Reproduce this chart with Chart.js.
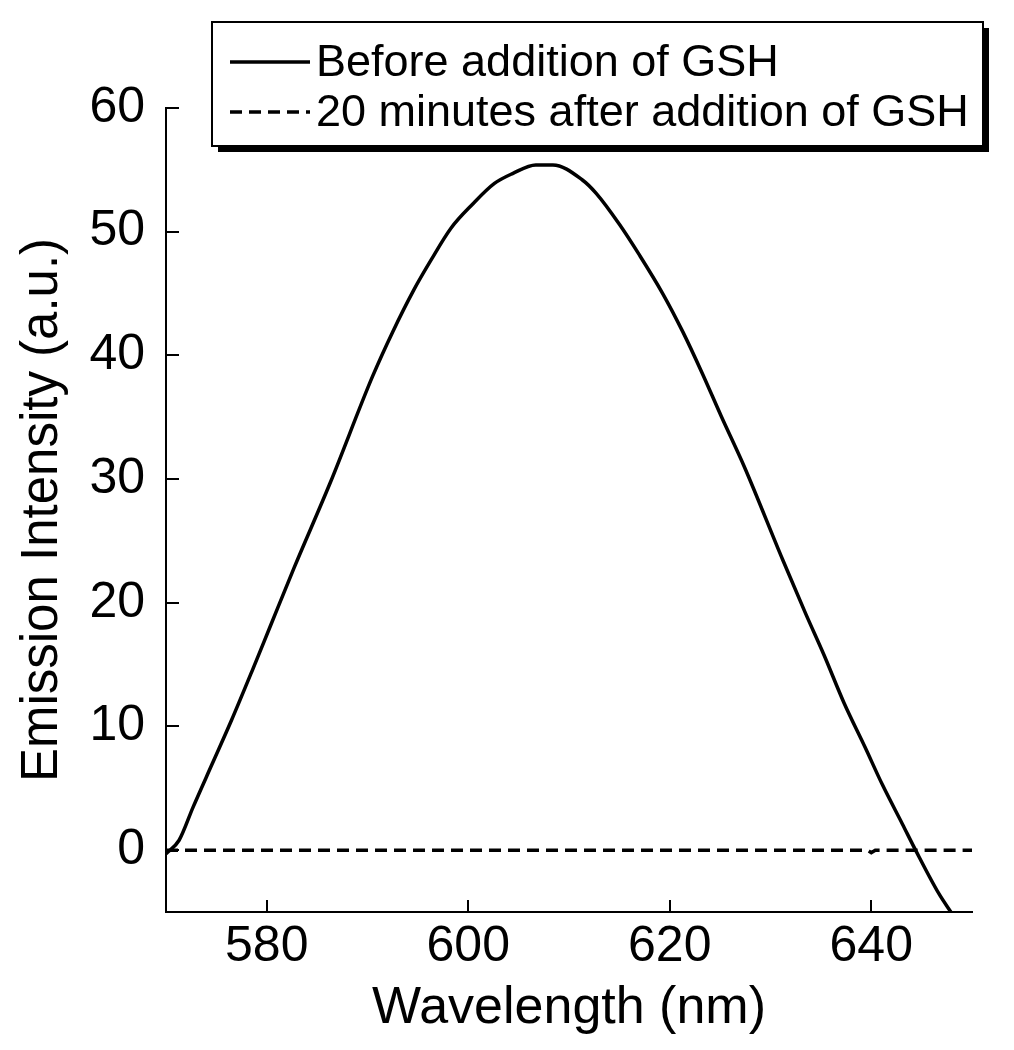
<!DOCTYPE html>
<html>
<head>
<meta charset="utf-8">
<title>Emission spectrum</title>
<script src="https://cdn.jsdelivr.net/npm/chart.js@4.4.1/dist/chart.umd.min.js"></script>
<style>
  html, body { margin: 0; padding: 0; background: #fff; }
  #wrap { width: 1014px; height: 1050px; }
</style>
</head>
<body>
<div id="wrap"><canvas id="myChart" width="1014" height="1050"></canvas></div>
<script>
// Set Data
const labels = ["Before addition of GSH", "20 minutes after addition of GSH"];
const beforeX = [570, 571.3, 572.7, 574.6, 576.5, 578.6, 580.3, 582.7, 586.3, 590.5, 592.5, 594.6, 596.3, 598.3, 600.4, 602.6, 604.4, 606.7, 608.4, 611.3, 612.7, 615.0, 617.0, 619.3, 621.3, 623.2, 625.1, 627.4, 631.2, 633.5, 635.3, 637.3, 639.4, 641.1, 643.1, 644.4, 646.7, 647.9];
const beforeY = [-0.3, 0.8, 3.5, 7.0, 10.5, 14.6, 18.0, 22.8, 29.7, 38.3, 41.9, 45.3, 47.7, 50.3, 52.2, 53.9, 54.7, 55.4, 55.4, 54.2, 53.1, 50.6, 48.1, 45.0, 41.9, 38.6, 35.1, 31.0, 23.5, 19.1, 15.8, 11.9, 8.3, 5.3, 2.1, 0, -3.5, -5.0];
const afterX = [570, 639.6, 640, 640.4, 650];
const afterY = [0, 0, -0.2, 0, 0];
const xTicks = [580, 600, 620, 640];
const yTicks = [0, 10, 20, 30, 40, 50, 60];

const toPoints = (xs, ys) => xs.map((x, i) => ({ x: x, y: ys[i] }));
const font = "'Liberation Sans', Arial, sans-serif";

// ----------------------Inward ticks + boxed legend-----------------------
const extras = {
  id: "extras",
  afterDraw(chart) {
    const ctx = chart.ctx;
    const area = chart.chartArea;
    const xs = chart.scales.x;
    const ys = chart.scales.y;
    ctx.save();
    ctx.strokeStyle = "#000";
    ctx.lineWidth = 2;
    ctx.beginPath();
    xs.ticks.forEach((t) => {
      const px = Math.round(xs.getPixelForValue(t.value));
      ctx.moveTo(px, area.bottom);
      ctx.lineTo(px, area.bottom - 12);
    });
    ys.ticks.forEach((t) => {
      const py = Math.round(ys.getPixelForValue(t.value));
      ctx.moveTo(area.left, py);
      ctx.lineTo(area.left + 13, py);
    });
    ctx.stroke();

    // legend box with shadow
    const bx = 212, by = 22, bw = 771, bh = 124;
    ctx.fillStyle = "#000";
    ctx.fillRect(bx + 6, by + 6, bw, bh);
    ctx.fillStyle = "#fff";
    ctx.fillRect(bx, by, bw, bh);
    ctx.lineWidth = 2;
    ctx.strokeRect(bx, by, bw, bh);

    ctx.font = "45px " + font;
    ctx.textBaseline = "middle";
    ctx.fillStyle = "#000";
    chart.data.datasets.forEach((ds, i) => {
      const y = 62 + i * 50;
      ctx.setLineDash(ds.borderDash || []);
      ctx.lineWidth = 3.5;
      ctx.beginPath();
      ctx.moveTo(230, y);
      ctx.lineTo(310, y);
      ctx.stroke();
      ctx.setLineDash([]);
      ctx.fillText(ds.label, 316, y + 2);
    });
    ctx.restore();
  },
};

new Chart("myChart", {
  type: "line",
  data: {
    datasets: [
      {
        label: labels[0],
        data: toPoints(beforeX, beforeY),
        borderColor: "#000",
        borderWidth: 3.5,
        pointRadius: 0,
        cubicInterpolationMode: "monotone",
        fill: false,
      },
      {
        label: labels[1],
        data: toPoints(afterX, afterY),
        borderColor: "#000",
        borderWidth: 3.5,
        borderDash: [12, 7],
        pointRadius: 0,
        tension: 0,
        fill: false,
      },
    ],
  },
  options: {
    responsive: false,
    animation: false,
    layout: { padding: { top: 108, right: 42, left: 0, bottom: 0 } },
    plugins: {
      legend: { display: false },
      tooltip: { enabled: false },
    },
    scales: {
      x: {
        type: "linear",
        min: 570,
        max: 650,
        afterBuildTicks: (s) => { s.ticks = xTicks.map((v) => ({ value: v })); },
        afterFit: (s) => { s.height = 138; },
        grid: { display: true, drawOnChartArea: false, drawTicks: false },
        border: { display: true, color: "#000", width: 2 },
        ticks: { color: "#000", padding: 5, font: { family: font, size: 50 } },
        title: {
          display: true,
          text: "Wavelength (nm)",
          color: "#000",
          font: { family: font, size: 52 },
          padding: { top: 0, bottom: 10 },
        },
      },
      y: {
        type: "linear",
        min: -5,
        max: 60,
        afterBuildTicks: (s) => { s.ticks = yTicks.map((v) => ({ value: v })); },
        afterFit: (s) => { s.width = 166; },
        grid: { display: true, drawOnChartArea: false, drawTicks: false },
        border: { display: true, color: "#000", width: 2 },
        ticks: { color: "#000", padding: 21, font: { family: font, size: 50 } },
        title: {
          display: true,
          text: "Emission Intensity (a.u.)",
          color: "#000",
          font: { family: font, size: 51 },
          padding: { top: 12, bottom: 0 },
        },
      },
    },
  },
  plugins: [extras],
});
</script>
</body>
</html>
